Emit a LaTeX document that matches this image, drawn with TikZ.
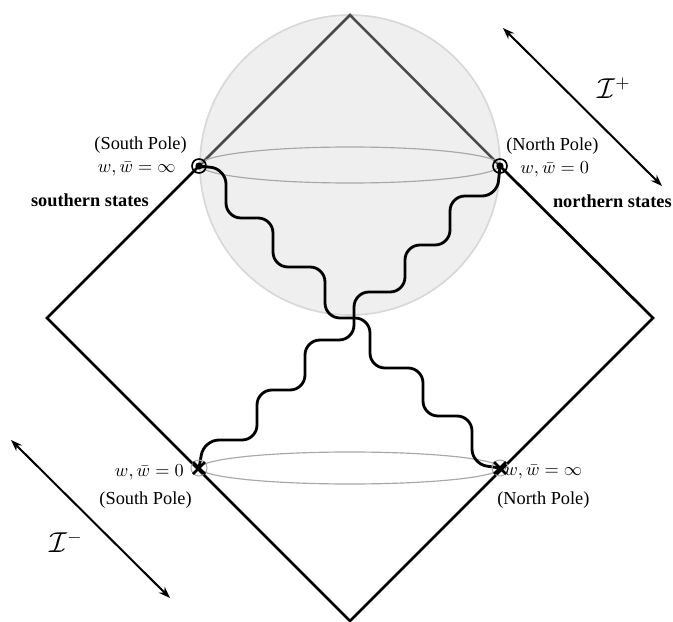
\documentclass[tikz,border=0pt]{standalone}
\usepackage{fontspec}
\setmainfont{Liberation Serif}
\usetikzlibrary{arrows.meta}
\definecolor{spherefill}{HTML}{EFEFEF}
\definecolor{sphereedge}{HTML}{D8D8D8}
\definecolor{ringgray}{HTML}{A8A8A8}
\definecolor{conegray}{HTML}{4A4A4A}
\tikzset{
  lbl/.style={inner sep=0pt, font=\fontsize{11}{13}\selectfont},
  blbl/.style={inner sep=0pt, font=\fontsize{11}{13}\selectfont\bfseries},
  scri/.style={inner sep=0pt, font=\fontsize{16}{18}\selectfont},
  edge/.style={line width=1.6pt, black},
  cone/.style={line width=1.5pt, conegray},
  ring/.style={line width=0.7pt, ringgray},
  wave/.style={line width=1.7pt, black, rounded corners=9pt},
  scriarrow/.style={line width=1.2pt, {Stealth[length=7pt,width=5pt]}-{Stealth[length=7pt,width=5pt]}},
}
\begin{document}
\begin{tikzpicture}[x=0.6pt, y=-0.6pt]
\useasboundingbox (0,0) rectangle (673,622);
% key points
\coordinate (top) at (350,15);
\coordinate (left) at (47,318);
\coordinate (right) at (653,318);
\coordinate (bottom) at (350,621);
\coordinate (SPt) at (199,166);
\coordinate (NPt) at (500,166);
\coordinate (SPb) at (199,468);
\coordinate (NPb) at (500,468);
\coordinate (C) at (350,165);
\coordinate (Cb) at (350,468);
% sphere
\fill[spherefill, draw=sphereedge, line width=1pt] (C) circle[radius=150];
% light cone inside sphere
\draw[cone] (SPt) -- (top) -- (NPt);
% equators
\draw[ring] (C) ellipse[x radius=150, y radius=18];
\draw[ring] (Cb) ellipse[x radius=150, y radius=16];
% wavy lines
\draw[wave] (SPt) -- (226,169) -- (226,218) -- (273,218) -- (273,267) -- (325,267) -- (325,318) -- (370,318) -- (370,368) -- (423,368) -- (423,416) -- (472,416) -- (472,464) -- (NPb);
\draw[wave] (NPt) -- (497,196) -- (450,196) -- (450,245) -- (405,245) -- (405,292) -- (354,292) -- (354,340) -- (305,340) -- (305,390) -- (257,390) -- (257,440) -- (204,440) -- (SPb);
% Penrose diagram edges
\draw[edge] (SPt) -- (left) -- (bottom) -- (right) -- (NPt);
% top pole markers
\draw[line width=1pt] (SPt) circle[radius=7];
\fill (SPt) circle[radius=3.6];
\draw[line width=1pt] (NPt) circle[radius=7];
\fill (NPt) circle[radius=3.6];
% bottom pole markers
\draw[ringgray, line width=0.6pt] (SPb) circle[radius=8];
\draw[line width=1.6pt] (SPb) ++(-6,-6) -- ++(12,12) (SPb) ++(-6,6) -- ++(12,-12);
\draw[ringgray, line width=0.6pt] (NPb) circle[radius=8];
\draw[line width=1.6pt] (NPb) ++(-6,-6) -- ++(12,12) (NPb) ++(-6,6) -- ++(12,-12);
% labels
\node[lbl, anchor=east] (sp1) at (187,145) {(South Pole)};
\node[lbl, anchor=east] (sp2) at (176,169) {$w,\bar w=\infty$};
\node[blbl, anchor=east] (ss) at (149,200) {southern states};
\node[lbl, anchor=west] (np1) at (506,146) {(North Pole)};
\node[lbl, anchor=west] (np2) at (520,169) {$w,\bar w=0$};
\node[blbl, anchor=east] (ns) at (672,201) {northern states};
\node[lbl, anchor=east] (sp3) at (184,472) {$w,\bar w=0$};
\node[lbl, anchor=east] (sp4) at (192,500) {(South Pole)};
\node[lbl, anchor=west] (np3) at (504,472) {$w,\bar w=\infty$};
\node[lbl, anchor=west] (np4) at (497,500) {(North Pole)};
% scri arrows
\coordinate (ipa) at (503,28);
\coordinate (ipb) at (662,186);
\draw[scriarrow] (ipa) -- (ipb);
\node[scri] (ip) at (614,88) {$\mathcal{I}^{+}$};
\coordinate (ima) at (11,440);
\coordinate (imb) at (170,598);
\draw[scriarrow] (ima) -- (imb);
\node[scri] (im) at (66,542) {$\mathcal{I}^{-}$};
\end{tikzpicture}
\end{document}
